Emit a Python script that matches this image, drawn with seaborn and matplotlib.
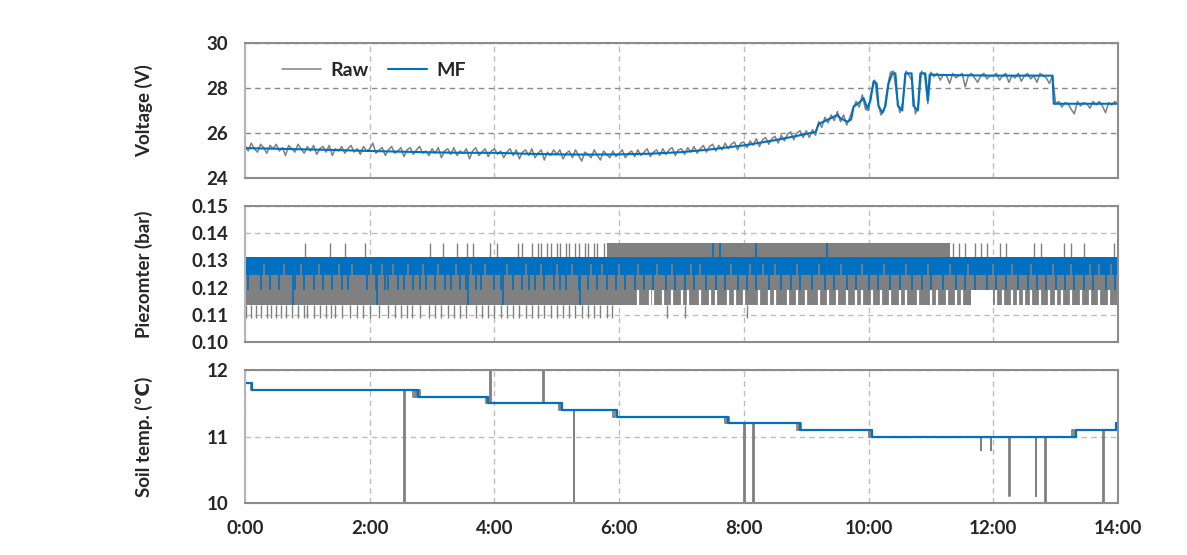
import matplotlib
matplotlib.use("Agg")
import matplotlib.pyplot as plt
import seaborn as sns

# ---------------- data ----------------
hour_ticks = [0, 2, 4, 6, 8, 10, 12, 14]
hour_labels = ["0:00", "2:00", "4:00", "6:00", "8:00", "10:00", "12:00", "14:00"]

# Voltage, median filtered (hours, V)
volt_mf_h = [0.0, 0.5, 1.0, 1.5, 2.0, 2.5, 3.0, 3.5, 4.0, 4.5, 5.0, 5.5, 6.0, 6.5, 7.0,
             7.5, 8.0, 8.5, 8.9, 9.15, 9.2, 9.35, 9.5, 9.55, 9.66, 9.72, 9.76, 9.87,
             9.92, 9.98, 10.03, 10.08, 10.13, 10.16, 10.22, 10.27, 10.32, 10.38, 10.43,
             10.47, 10.54, 10.59, 10.69, 10.72, 10.79, 10.83, 10.91, 10.95, 10.98,
             11.15, 12.0, 12.95, 12.97, 14.0]
volt_mf_v = [25.33, 25.3, 25.27, 25.24, 25.2, 25.17, 25.14, 25.12, 25.12, 25.08, 25.05,
             25.04, 25.05, 25.08, 25.15, 25.28, 25.45, 25.68, 25.9, 26.05, 26.4, 26.6,
             26.8, 26.65, 26.5, 26.6, 27.17, 27.4, 27.55, 27.1, 27.45, 28.3, 28.2, 27.2,
             26.9, 27.2, 28.2, 28.65, 28.65, 27.2, 27.0, 28.65, 28.65, 27.2, 27.0, 28.65,
             28.65, 27.45, 28.6, 28.58, 28.55, 28.55, 27.3, 27.3]

# Voltage, raw (sampled every 0.05 h)
volt_raw_h = [round(0.05 * i, 2) for i in range(281)]
volt_raw_v = [
    # 0:00
    25.45, 25.20, 25.55, 25.30, 25.15, 25.50, 25.35, 25.10, 25.45, 25.30,
    25.50, 25.20, 25.35, 25.00, 25.45, 25.30, 25.15, 25.50, 25.30, 25.10,
    # 1:00
    25.40, 25.20, 25.45, 25.05, 25.30, 25.40, 25.15, 25.45, 25.00, 25.30,
    25.20, 25.40, 25.10, 25.30, 25.45, 25.15, 25.30, 25.05, 25.40, 25.20,
    # 2:00
    25.30, 25.55, 25.10, 25.25, 25.35, 25.00, 25.25, 25.40, 25.10, 25.20,
    25.35, 24.95, 25.25, 25.35, 25.05, 25.25, 25.40, 25.10, 25.20, 25.00,
    # 3:00
    25.30, 25.10, 25.35, 24.90, 25.20, 25.30, 25.05, 25.35, 25.00, 25.20,
    25.10, 25.30, 24.85, 25.20, 25.35, 25.00, 25.15, 25.30, 24.95, 25.20,
    # 4:00
    25.30, 25.05, 25.20, 24.90, 25.15, 25.30, 25.00, 25.25, 24.85, 25.15,
    25.25, 25.00, 25.30, 24.90, 25.10, 25.25, 24.80, 25.15, 25.00, 25.25,
    # 5:00
    25.05, 25.25, 24.85, 25.10, 25.20, 24.90, 25.25, 25.00, 24.75, 25.15,
    25.05, 24.90, 25.25, 25.00, 24.80, 25.20, 25.05, 24.90, 25.20, 24.95,
    # 6:00
    25.10, 25.25, 24.90, 25.10, 25.20, 24.95, 25.25, 25.00, 25.15, 25.30,
    24.95, 25.15, 25.25, 25.00, 25.30, 25.05, 25.25, 25.35, 25.00, 25.25,
    # 7:00
    25.30, 25.05, 25.35, 25.15, 25.40, 25.10, 25.30, 25.45, 25.15, 25.40,
    25.50, 25.20, 25.45, 25.25, 25.55, 25.30, 25.50, 25.60, 25.25, 25.55,
    # 8:00
    25.60, 25.35, 25.65, 25.45, 25.75, 25.40, 25.70, 25.80, 25.50, 25.75,
    25.85, 25.55, 25.90, 25.65, 25.95, 26.05, 25.70, 26.00, 26.10, 25.80,
    # 9:00
    26.10, 25.80, 26.15, 25.90, 26.50, 26.25, 26.70, 26.45, 26.80, 26.55,
    26.95, 26.50, 26.80, 26.35, 26.70, 27.10, 27.40, 27.15, 27.70, 27.05,
    # 10:00
    27.00, 27.90, 28.35, 27.30, 26.80, 27.00, 28.00, 28.70, 28.75, 27.70,
    26.90, 27.40, 28.75, 28.55, 28.30, 26.85, 27.20, 28.75, 28.55, 27.30,
    # 11:00
    28.70, 28.50, 28.65, 28.35, 28.60, 28.55, 28.20, 28.65, 28.45, 28.55,
    28.65, 28.05, 28.55, 28.65, 28.45, 28.25, 28.55, 28.65, 28.40, 28.55,
    # 12:00
    28.55, 28.65, 28.35, 28.55, 28.65, 28.25, 28.55, 28.45, 28.65, 28.30,
    28.55, 28.65, 28.40, 28.55, 28.25, 28.65, 28.55, 28.45, 28.20, 28.55,
    # 13:00
    27.30, 27.40, 27.15, 27.35, 27.30, 27.05, 26.85, 27.40, 27.20, 27.35,
    27.30, 27.10, 27.40, 27.25, 27.40, 27.20, 26.90, 27.35, 27.25, 27.40,
    # 14:00
    27.30]

# Piezometer (bar): raw signal envelope and spikes
piezo_band_h = [0.0, 5.8, 11.3, 11.64, 12.0, 14.0]
piezo_band_lo = [0.1137, 0.1137, 0.1137, 0.1191, 0.1137, 0.1137]
piezo_band_hi = [0.1314, 0.1364, 0.1314, 0.1314, 0.1314, 0.1314]
piezo_raw_up_h = [0.96, 1.36, 1.61, 1.93, 2.97, 3.18, 3.40, 3.56, 3.66, 3.93, 4.04, 4.37,
                  4.45, 4.6, 4.7, 4.75, 4.85, 4.9, 5.0, 5.05, 5.15, 5.2, 5.3, 5.35, 5.45,
                  5.5, 5.6, 5.65, 5.75, 11.35, 11.45, 11.55, 11.7, 11.8, 11.9, 12.1, 12.2,
                  12.65, 12.76, 13.13, 13.24, 13.45, 13.93]
piezo_raw_down_h = [0.02, 0.1, 0.18, 0.25, 0.35, 0.42, 0.5, 0.58, 0.65, 0.75, 0.85, 0.95,
                    1.0, 1.1, 1.2, 1.3, 1.38, 1.45, 1.55, 1.68, 1.8, 1.9, 2.0, 2.15, 2.3,
                    2.4, 2.5, 2.6, 2.68, 2.8, 2.95, 3.05, 3.15, 3.25, 3.35, 3.45, 3.55, 3.7,
                    3.8, 3.9, 4.0, 4.1, 4.2, 4.3, 4.4, 4.5, 4.6, 4.7, 4.8, 4.9, 5.0, 5.1,
                    5.2, 5.3, 5.4, 5.5, 5.6, 5.7, 5.8, 5.88, 6.77, 7.06, 8.05]
piezo_raw_gap_h = [6.3, 6.5, 6.55, 6.7, 6.85, 7.0, 7.1, 7.3, 7.45, 7.55, 7.75, 7.85, 8.0,
                   8.25, 8.4, 8.5, 8.7, 8.85, 9.0, 9.2, 9.35, 9.5, 9.65, 9.8, 9.9, 10.05,
                   10.2, 10.35, 10.5, 10.6, 10.8, 11.0, 11.1, 11.25, 11.4, 11.5, 12.05,
                   12.15, 12.3, 12.4, 12.5, 12.6, 12.75, 12.9, 13.0, 13.1, 13.25, 13.4,
                   13.55, 13.7, 13.85]
piezo_levels = [0.1089, 0.1137, 0.1191, 0.1248, 0.1285, 0.1314, 0.1364]

# Piezometer, median filtered
piezo_mf_band_h = [0.0, 14.0]
piezo_mf_band_lo = [0.1248, 0.1248]
piezo_mf_band_hi = [0.1314, 0.1314]
piezo_mf_down_h = [0.05, 0.25, 0.4, 0.55, 0.8, 0.95, 1.1, 1.25, 1.4, 1.55, 1.65, 1.95, 2.1,
                   2.25, 2.3, 2.45, 2.55, 2.7, 2.8, 2.9, 3.05, 3.2, 3.3, 3.45, 3.55, 3.7,
                   3.78, 4.0, 4.1, 4.3, 4.45, 4.55, 4.65, 4.8, 4.95, 5.05, 5.15, 5.35, 5.5,
                   5.65, 5.8, 5.95, 6.1, 6.25, 6.4, 6.55, 6.75, 6.9, 7.05, 7.2, 7.4, 7.55,
                   7.7, 7.9, 8.05, 8.2, 8.4, 8.6, 8.75, 8.9, 9.1, 9.3, 9.45, 9.65, 9.8,
                   10.0, 10.15, 10.35, 10.5, 10.7, 10.85, 11.0, 11.2, 11.4, 11.55, 11.7,
                   11.9, 12.05, 12.2, 12.4, 12.55, 12.7, 12.85, 13.0, 13.15, 13.3, 13.45,
                   13.6, 13.8, 13.95]
piezo_mf_deep_h = [0.77, 2.12, 3.58, 4.13, 5.38]
piezo_mf_up_h = [7.5, 7.62, 8.19, 9.34]
piezo_mf_gap_h = [0.3, 0.62, 0.9, 1.18, 1.5, 1.72, 2.02, 2.2, 2.38, 2.62, 2.85, 3.1, 3.38,
                  3.62, 3.85, 4.2, 4.5, 4.75, 5.0, 5.25, 5.55, 5.72, 6.0, 6.3, 6.6, 6.85,
                  7.15, 7.3, 7.8, 8.1, 8.3, 8.5, 8.85, 9.2, 9.55, 9.9, 10.25, 10.6, 10.95,
                  11.3, 11.6, 12.0, 12.3, 12.6, 12.95, 13.25, 13.55, 13.7, 13.88]

# Soil temperature (deg C)
soil_mf_h = [0.0, 0.12, 2.78, 3.9, 5.08, 5.97, 7.75, 8.9, 10.06, 13.32, 13.92, 13.97, 14.0]
soil_mf_v = [11.8, 11.7, 11.6, 11.5, 11.4, 11.3, 11.2, 11.1, 11.0, 11.1, 11.1, 11.2, 11.2]
soil_raw_h = [0.0, 0.10, 0.13, 2.55, 2.56, 2.70, 2.72, 2.74, 2.76, 2.80, 3.86, 3.88, 3.90,
              3.93, 3.94, 4.78, 4.79, 5.03, 5.05, 5.07, 5.27, 5.28, 5.90, 5.93, 5.96, 5.98,
              7.70, 7.73, 7.76, 7.78, 8.01, 8.02, 8.15, 8.17, 8.85, 8.88, 8.92, 8.95,
              10.00, 10.03, 10.06, 10.09, 11.80, 11.81, 11.96, 11.97, 12.26, 12.27, 12.68,
              12.69, 12.83, 12.84, 13.27, 13.30, 13.33, 13.76, 13.77, 13.92, 13.97, 14.0]
soil_raw_v = [11.8, 11.7, 11.7, 9.9, 11.7, 11.6, 11.7, 11.6, 11.7, 11.6, 11.5, 11.6, 11.5,
              12.1, 11.5, 12.1, 11.5, 11.4, 11.5, 11.4, 9.9, 11.4, 11.3, 11.4, 11.3, 11.3,
              11.2, 11.3, 11.2, 11.2, 9.9, 11.2, 9.9, 11.2, 11.1, 11.2, 11.1, 11.1,
              11.0, 11.1, 11.0, 11.0, 10.8, 11.0, 10.8, 11.0, 10.1, 11.0, 10.1,
              11.0, 9.9, 11.0, 11.1, 11.0, 11.1, 9.9, 11.1, 11.1, 11.2, 11.2]

# ---------------- style ----------------
sns.set_style("white")
plt.rcParams["font.family"] = ["Lato", "DejaVu Sans"]
plt.rcParams["font.weight"] = "bold"

GRAY = "#808080"
BLUE = "#0070C0"
FS = 13.5

fig = plt.figure(figsize=(11.87, 5.55), dpi=100)
L, W = 245 / 1187, 873 / 1187
ax1 = fig.add_axes([L, 1 - 178 / 555, W, 135 / 555])
ax2 = fig.add_axes([L, 1 - 342 / 555, W, 136 / 555])
ax3 = fig.add_axes([L, 1 - 503 / 555, W, 133 / 555])

# Voltage
sns.lineplot(x=volt_raw_h, y=volt_raw_v, ax=ax1, color=GRAY, linewidth=1.1,
             estimator=None, sort=False, label="Raw")
sns.lineplot(x=volt_mf_h, y=volt_mf_v, ax=ax1, color=BLUE, linewidth=1.5,
             estimator=None, sort=False, label="MF")
ax1.set_ylim(24, 30)
ax1.set_yticks([24, 26, 28, 30])
ax1.set_ylabel("Voltage (V)", fontsize=FS, fontweight="bold")

# Piezometer
lv = piezo_levels
ax2.fill_between(piezo_band_h, piezo_band_lo, piezo_band_hi, step="post",
                 color=GRAY, linewidth=0, zorder=2)
ax2.vlines(piezo_raw_up_h, lv[5], lv[6], colors=GRAY, lw=1.0, zorder=2)
ax2.vlines(piezo_raw_down_h, lv[0], lv[1], colors=GRAY, lw=1.0, zorder=2)
ax2.vlines(piezo_raw_gap_h, lv[1], lv[2], colors="white", lw=1.6, zorder=2)
ax2.fill_between(piezo_mf_band_h, piezo_mf_band_lo, piezo_mf_band_hi, step="post",
                 color=BLUE, linewidth=0, zorder=3)
ax2.vlines(piezo_mf_gap_h, lv[3], lv[4], colors=GRAY, lw=1.2, zorder=3)
ax2.vlines(piezo_mf_down_h, lv[2], lv[3], colors=BLUE, lw=1.2, zorder=3)
ax2.vlines(piezo_mf_deep_h, lv[1], lv[3], colors=BLUE, lw=1.2, zorder=3)
ax2.vlines(piezo_mf_up_h, lv[5], lv[6], colors=BLUE, lw=1.2, zorder=3)
ax2.set_ylim(0.10, 0.15)
ax2.set_yticks([0.10, 0.11, 0.12, 0.13, 0.14, 0.15])
ax2.set_yticklabels(["0.10", "0.11", "0.12", "0.13", "0.14", "0.15"])
ax2.set_ylabel("Piezomter (bar)", fontsize=FS, fontweight="bold")

# Soil temperature
sns.lineplot(x=soil_raw_h, y=soil_raw_v, ax=ax3, color=GRAY, linewidth=1.3,
             estimator=None, sort=False, drawstyle="steps-post")
sns.lineplot(x=soil_mf_h, y=soil_mf_v, ax=ax3, color=BLUE, linewidth=1.6,
             estimator=None, sort=False, drawstyle="steps-post")
ax3.set_ylim(10, 12)
ax3.set_yticks([10, 11, 12])
ax3.set_ylabel("Soil temp. (\u2103)", fontsize=FS, fontweight="bold")

for ax in (ax1, ax2, ax3):
    ax.set_xlim(0, 14)
    ax.set_xticks(hour_ticks)
    if ax is ax3:
        ax.set_xticklabels(hour_labels)
    else:
        ax.set_xticklabels([])
    ax.set_xlabel("")
    hcol = "#8a8a8a" if ax is ax1 else "#bdbdbd"
    ax.grid(axis="y", linestyle=(0, (4, 3)), color=hcol, linewidth=1.0)
    ax.grid(axis="x", linestyle=(0, (4, 3)), color="#bdbdbd", linewidth=1.0)
    ax.set_axisbelow(True)
    for s in ax.spines.values():
        s.set_visible(True)
        s.set_color("#8c8c8c")
        s.set_linewidth(1.5)
        s.set_zorder(5)
    ax.spines["left"].set_color("#b5b5b5")
    ax.tick_params(axis="both", length=0, labelsize=FS, pad=12)
    for t in ax.get_xticklabels() + ax.get_yticklabels():
        t.set_fontweight("bold")
    ax.yaxis.set_label_coords(-0.105, 0.5)

leg = ax1.legend(loc="upper left", bbox_to_anchor=(0.022, 0.99), ncol=2, frameon=False,
                 handlelength=2.0, columnspacing=1.0, handletextpad=0.5,
                 prop={"weight": "bold", "size": 14})

fig.savefig("out.png", dpi=100)
